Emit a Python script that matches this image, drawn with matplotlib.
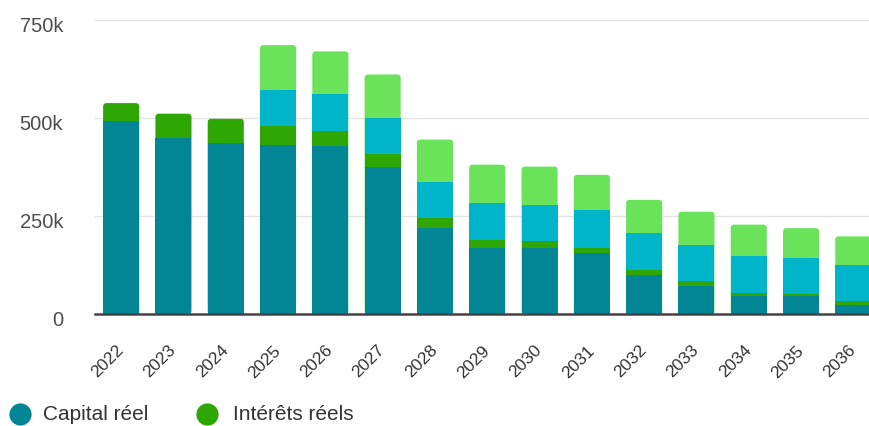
import matplotlib
matplotlib.use("Agg")
import matplotlib.pyplot as plt
from matplotlib.patches import FancyBboxPatch
from matplotlib.lines import Line2D
import matplotlib.transforms as mtransforms
import numpy as np

plt.rcParams['font.family'] = ['Liberation Sans', 'DejaVu Sans']

years = ["2022", "2023", "2024", "2025", "2026", "2027", "2028", "2029",
         "2030", "2031", "2032", "2033", "2034", "2035", "2036", "2037"]
capital_reel = [492, 449, 437, 432, 428, 376, 219, 168, 168, 156, 100, 71, 46, 46, 24, 20]
interets_reels = [46, 62, 61, 47, 38, 31, 26, 22, 17, 12, 13, 12, 7, 4, 8, 6]
serie_3 = [0, 0, 0, 93, 94, 93, 93, 93, 94, 98, 93, 94, 94, 93, 94, 94]
serie_4 = [0, 0, 0, 114, 110, 111, 107, 98, 97, 89, 85, 84, 81, 76, 72, 70]
yticks = [0, 250, 500, 750]
ytick_labels = ["0", "250k", "500k", "750k"]
legend_labels = ["Capital réel", "Intérêts réels"]

colors = ["#028696", "#2ea603", "#00b4c9", "#6ae35a"]
values = [capital_reel, interets_reels, serie_3, serie_4]

W, H = 870, 426
fig = plt.figure(figsize=(W / 100, H / 100), dpi=100)
left_px, right_px = 95, 95 + 16 * 52.3
bottom_px, top_px = 314, 20
ax = fig.add_axes([left_px / W, (H - bottom_px) / H, (right_px - left_px) / W, (bottom_px - top_px) / H])
ax.set_xlim(-0.5, len(years) - 0.5)
ax.set_ylim(0, 750)

x = np.arange(len(years))
width = 0.69

fig.canvas.draw()
p0 = ax.transData.transform((0, 0))
p1 = ax.transData.transform((1, 100))
xpp = 1 / (p1[0] - p0[0])
ypp = 100 / (p1[1] - p0[1])
aspect = ypp / xpp

vals = np.array(values, dtype=float)
totals = vals.sum(axis=0)
for i in range(len(years)):
    top_idx = max(k for k in range(len(values)) if vals[k, i] > 0)
    patch = FancyBboxPatch((x[i] - width / 2, 0), width, totals[i],
                           boxstyle=f"round,pad=0,rounding_size={3.5 * xpp}",
                           mutation_aspect=aspect,
                           facecolor=colors[top_idx], edgecolor='none', zorder=2)
    ax.add_patch(patch)
    bottom = 0
    for k in range(top_idx):
        ax.bar(x[i], vals[k, i], width=width, bottom=bottom, color=colors[k],
               edgecolor='none', zorder=3)
        bottom += vals[k, i]

ax.set_yticks(yticks)
ax.set_yticklabels(ytick_labels)
ax.set_xticks(x)
ax.set_xticklabels(years, rotation=45, ha='right', va='center', rotation_mode='anchor')
ax.tick_params(axis='x', length=0, pad=24.5, labelsize=12.5, labelcolor='#333333')
ax.tick_params(axis='y', length=0, pad=23, labelsize=14.5, labelcolor='#4d4d4d')
ydown = mtransforms.ScaledTranslation(0, -3 / 72, fig.dpi_scale_trans)
for lab in ax.get_yticklabels():
    lab.set_transform(lab.get_transform() + ydown)

ax.grid(axis='y', color='#e3e3e3', linewidth=1, zorder=0)
ax.set_axisbelow(True)
for s in ['top', 'right', 'left']:
    ax.spines[s].set_visible(False)
ax.spines['bottom'].set_color('#444444')
ax.spines['bottom'].set_linewidth(1.8)
ax.spines['bottom'].set_zorder(5)

# legend (manual placement)
leg_y = (H - 414) / H
for cx, tx, c, lab in [(20, 43, colors[0], legend_labels[0]),
                       (207, 233, colors[1], legend_labels[1])]:
    fig.add_artist(Line2D([cx / W], [leg_y], marker='o', linestyle='none', markersize=16,
                          markerfacecolor=c, markeredgecolor='none',
                          transform=fig.transFigure))
    fig.text(tx / W, leg_y, lab, ha='left', va='center', fontsize=15, color='#333333')

fig.savefig("out.png", dpi=100)
